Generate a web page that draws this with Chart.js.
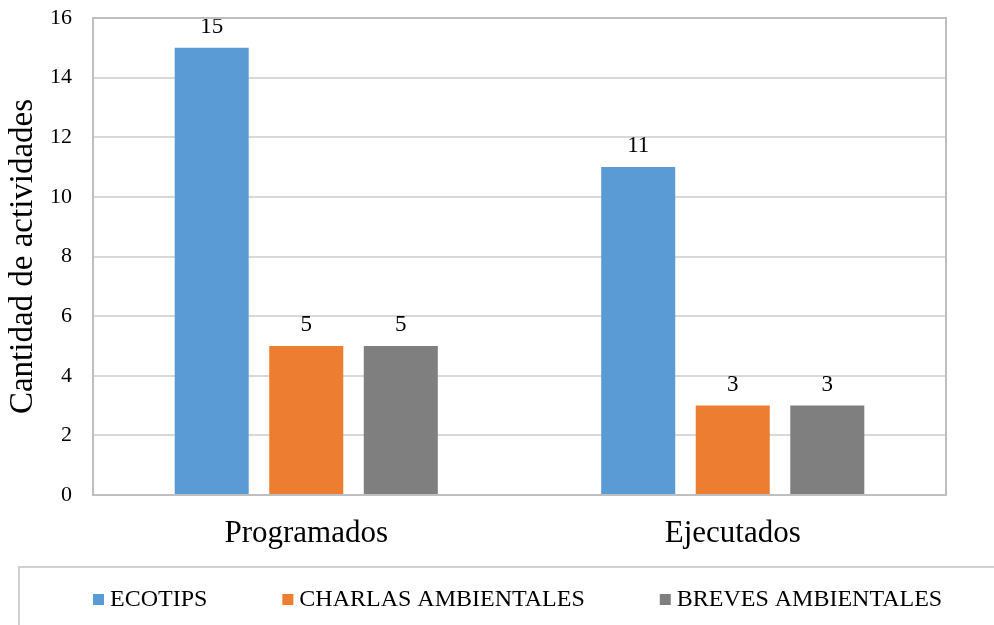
<!DOCTYPE html>
<html><head><meta charset="utf-8">
<script src="https://cdn.jsdelivr.net/npm/chart.js@4/dist/chart.umd.min.js"></script>
<style>html,body{margin:0;padding:0;background:#fff}#wrap{width:994px;height:625px}</style>
</head><body><div id="wrap"><canvas id="c" width="994" height="625"></canvas></div>
<script>
const categories = ["Programados", "Ejecutados"];
const seriesNames = ["ECOTIPS", "CHARLAS AMBIENTALES", "BREVES AMBIENTALES"];
const ecotips = [15, 11];
const charlas = [5, 3];
const breves = [5, 3];
const yTicks = [0, 2, 4, 6, 8, 10, 12, 14, 16];
const colors = ["#5B9BD5", "#ED7D31", "#7F7F7F"];
const FONT = "'Liberation Serif', 'Times New Roman', serif";

const labelPlugin = {
  id: 'valueLabels',
  afterDatasetsDraw(chart) {
    const ctx = chart.ctx;
    ctx.save();
    ctx.font = "23px " + FONT;
    ctx.fillStyle = "#000";
    ctx.textAlign = "center";
    ctx.textBaseline = "alphabetic";
    chart.data.datasets.forEach((ds, i) => {
      chart.getDatasetMeta(i).data.forEach((bar, j) => {
        ctx.fillText(String(ds.data[j]), bar.x, bar.y - 15);
      });
    });
    ctx.restore();
  }
};
const framePlugin = {
  id: 'frameAndLegend',
  afterDraw(chart) {
    const a = chart.chartArea, ctx = chart.ctx;
    ctx.save();
    ctx.strokeStyle = "#BFBFBF";
    ctx.lineWidth = 2;
    ctx.strokeRect(a.left, a.top, a.right - a.left, a.bottom - a.top);
    // legend box
    ctx.strokeStyle = "#D0D0D0";
    ctx.strokeRect(19, 567, 1000, 100);
    // legend items
    ctx.font = "24px " + FONT;
    ctx.textBaseline = "middle";
    ctx.textAlign = "left";
    let x = 93;
    const yc = 600;
    chart.data.datasets.forEach((ds) => {
      ctx.fillStyle = ds.backgroundColor;
      ctx.fillRect(x, yc - 6, 11, 11);
      ctx.fillStyle = "#000";
      ctx.fillText(ds.label, x + 17, yc);
      x += 17 + ctx.measureText(ds.label).width + 75;
    });
    ctx.restore();
  }
};

new Chart(document.getElementById('c'), {
  type: 'bar',
  data: {
    labels: categories,
    datasets: [
      { label: seriesNames[0], data: ecotips, backgroundColor: colors[0] },
      { label: seriesNames[1], data: charlas, backgroundColor: colors[1] },
      { label: seriesNames[2], data: breves, backgroundColor: colors[2] }
    ]
  },
  options: {
    responsive: false,
    animation: false,
    devicePixelRatio: 1,
    layout: { padding: { top: 18, right: 48, left: 0, bottom: 0 } },
    datasets: { bar: { categoryPercentage: 0.665, barPercentage: 0.783 } },
    plugins: {
      legend: { display: false },
      tooltip: { enabled: false }
    },
    scales: {
      x: {
        grid: { display: false, drawTicks: false },
        border: { display: false },
        ticks: { font: { family: FONT, size: 31 }, color: "#000", padding: 20 },
        afterFit(s) { s.height = 130; }
      },
      y: {
        min: 0, max: 16,
        afterBuildTicks(s) { s.ticks = yTicks.map(v => ({ value: v })); },
        grid: { color: "#D9D9D9", lineWidth: 2, drawTicks: false },
        border: { display: false },
        ticks: { font: { family: FONT, size: 22 }, color: "#000", padding: 21 },
        title: { display: true, text: "Cantidad de actividades", font: { family: FONT, size: 33 }, color: "#000", padding: { top: 4, bottom: 0 } },
        afterFit(s) { s.width = 93; s.paddingTop = 0; s.paddingBottom = 0; }
      }
    }
  },
  plugins: [labelPlugin, framePlugin]
});
</script></body></html>
